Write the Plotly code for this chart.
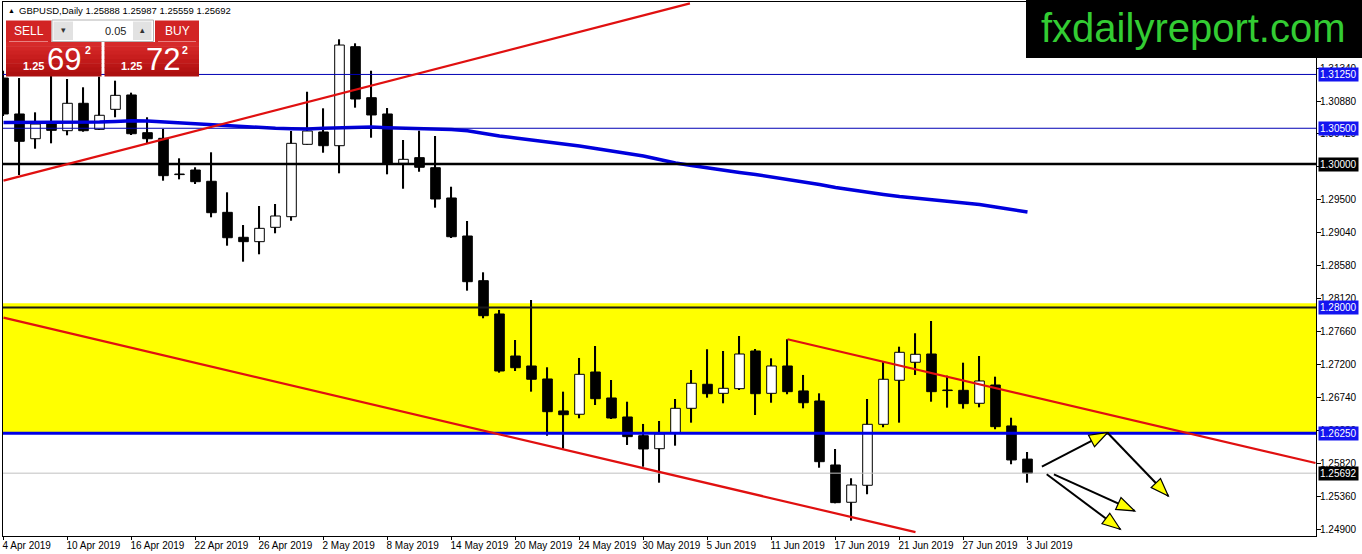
import math
import plotly.graph_objects as go

FONT = "Liberation Sans"

# GBPUSD daily bars
dates = ["2019-04-04", "2019-04-05", "2019-04-08", "2019-04-09", "2019-04-10", "2019-04-11",
         "2019-04-12", "2019-04-15", "2019-04-16", "2019-04-17", "2019-04-18", "2019-04-19",
         "2019-04-22", "2019-04-23", "2019-04-24", "2019-04-25", "2019-04-26", "2019-04-29",
         "2019-04-30", "2019-05-01", "2019-05-02", "2019-05-03", "2019-05-06", "2019-05-07",
         "2019-05-08", "2019-05-09", "2019-05-10", "2019-05-13", "2019-05-14", "2019-05-15",
         "2019-05-16", "2019-05-17", "2019-05-20", "2019-05-21", "2019-05-22", "2019-05-23",
         "2019-05-24", "2019-05-27", "2019-05-28", "2019-05-29", "2019-05-30", "2019-05-31",
         "2019-06-03", "2019-06-04", "2019-06-05", "2019-06-06", "2019-06-07", "2019-06-10",
         "2019-06-11", "2019-06-12", "2019-06-13", "2019-06-14", "2019-06-17", "2019-06-18",
         "2019-06-19", "2019-06-20", "2019-06-21", "2019-06-24", "2019-06-25", "2019-06-26",
         "2019-06-27", "2019-06-28", "2019-07-01", "2019-07-02", "2019-07-03"]
opens = [1.31200, 1.30699, 1.30354, 1.30591, 1.30466, 1.30848, 1.30485, 1.30764, 1.30964, 1.30438,
         1.30360, 1.29862, 1.29918, 1.29761, 1.29328, 1.28980, 1.28919, 1.29119, 1.29267, 1.30276,
         1.30448, 1.30257, 1.31637, 1.30926, 1.30699, 1.30011, 1.30090, 1.29950, 1.29528, 1.28998,
         1.28375, 1.27911, 1.27325, 1.27186, 1.27005, 1.26559, 1.26513, 1.27102, 1.26740, 1.26475,
         1.26214, 1.26033, 1.26248, 1.26596, 1.26931, 1.26805, 1.26870, 1.27395, 1.26805, 1.27186,
         1.26838, 1.26698, 1.25806, 1.25286, 1.25523, 1.26373, 1.26987, 1.27238, 1.27353, 1.26851,
         1.26847, 1.26666, 1.26921, 1.26350, 1.25888]
highs = [1.31300, 1.31200, 1.30722, 1.31250, 1.31187, 1.31071, 1.31220, 1.31163, 1.30996, 1.30653,
         1.30490, 1.30081, 1.29956, 1.30165, 1.29607, 1.29151, 1.29416, 1.29444, 1.30462, 1.31009,
         1.30778, 1.31740, 1.31684, 1.31302, 1.30782, 1.30336, 1.30466, 1.30392, 1.29685, 1.29207,
         1.28492, 1.27967, 1.27548, 1.28106, 1.27168, 1.26828, 1.27298, 1.27465, 1.26991, 1.26688,
         1.26378, 1.26419, 1.26726, 1.27130, 1.27419, 1.27395, 1.27604, 1.27423, 1.27293, 1.27558,
         1.27061, 1.26805, 1.26029, 1.25621, 1.26726, 1.27246, 1.27455, 1.27642, 1.27813, 1.27051,
         1.27232, 1.27325, 1.27037, 1.26465, 1.25987]
lows = [1.30671, 1.29848, 1.30215, 1.30290, 1.30402, 1.30452, 1.30476, 1.30653, 1.30406, 1.30290,
        1.29769, 1.29788, 1.29723, 1.29259, 1.28863, 1.28640, 1.28743, 1.29036, 1.29211, 1.30270,
        1.30159, 1.29872, 1.30787, 1.30368, 1.29858, 1.29657, 1.29894, 1.29393, 1.28970, 1.28236,
        1.27851, 1.27093, 1.27116, 1.26828, 1.26214, 1.26033, 1.26457, 1.26642, 1.26447, 1.26085,
        1.25782, 1.25559, 1.26075, 1.26396, 1.26744, 1.26666, 1.26851, 1.26503, 1.26674, 1.26792,
        1.26596, 1.25768, 1.25272, 1.25030, 1.25398, 1.26332, 1.26396, 1.27061, 1.26688, 1.26605,
        1.26591, 1.26610, 1.26304, 1.25816, 1.25559]
closes = [1.30699, 1.30318, 1.30559, 1.30471, 1.30848, 1.30466, 1.30681, 1.30959, 1.30424, 1.30354,
          1.29839, 1.29854, 1.29755, 1.29323, 1.28974, 1.28919, 1.29105, 1.29277, 1.30290, 1.30462,
          1.30257, 1.31660, 1.30908, 1.30685, 1.30011, 1.30067, 1.29956, 1.29514, 1.28988, 1.28361,
          1.27887, 1.27116, 1.27162, 1.27001, 1.26549, 1.26507, 1.27070, 1.26730, 1.26461, 1.26201,
          1.26029, 1.26238, 1.26596, 1.26945, 1.26800, 1.26875, 1.27353, 1.26800, 1.27186, 1.26828,
          1.26674, 1.25852, 1.25281, 1.25527, 1.26373, 1.27001, 1.27377, 1.27349, 1.26828, 1.26843,
          1.26661, 1.26977, 1.26340, 1.25876, 1.25692]
ma_line = [1.30580, 1.30580, 1.30580, 1.30583, 1.30583, 1.30583, 1.30587, 1.30594, 1.30605, 1.30601,
           1.30587, 1.30580, 1.30566, 1.30552, 1.30541, 1.30527, 1.30508, 1.30499, 1.30494, 1.30490,
           1.30499, 1.30508, 1.30513, 1.30517, 1.30508, 1.30503, 1.30499, 1.30494, 1.30483, 1.30466,
           1.30427, 1.30392, 1.30364, 1.30339, 1.30315, 1.30287, 1.30253, 1.30218, 1.30183, 1.30152,
           1.30113, 1.30064, 1.30016, 1.29981, 1.29946, 1.29911, 1.29883, 1.29855, 1.29820, 1.29786,
           1.29758, 1.29716, 1.29674, 1.29639, 1.29604, 1.29577, 1.29549, 1.29528, 1.29507, 1.29486,
           1.29465, 1.29437, 1.29402, 1.29367, 1.29333]

tick_labels = ["4 Apr 2019", "10 Apr 2019", "16 Apr 2019", "22 Apr 2019", "26 Apr 2019",
               "2 May 2019", "8 May 2019", "14 May 2019", "20 May 2019", "24 May 2019",
               "30 May 2019", "5 Jun 2019", "11 Jun 2019", "17 Jun 2019", "21 Jun 2019",
               "27 Jun 2019", "3 Jul 2019"]
price_ticks = [1.24900, 1.25360, 1.25820, 1.26280, 1.26740, 1.27200, 1.27660, 1.28120,
               1.28580, 1.29040, 1.29500, 1.29960, 1.30420, 1.30880, 1.31340]

# drawn objects
levels = [1.31250, 1.30500, 1.30000, 1.28000, 1.26250, 1.25692]
level_colors = ["#0000b4", "#0000b4", "black", "#1a1a1a", "#0000e6", "#c0c0c0"]
level_widths = [1, 1, 2.5, 2, 3, 1]
level_tags = ["#1414f0", "#1414f0", "black", "#1414f0", "#1414f0", "black"]
zone = (1.26250, 1.28060)
trendlines = [((0, 1.2977), (42.9, 1.3224)),
              ((0, 1.2786), (57.0, 1.2487)),
              ((49, 1.27558), (82.0, 1.25834))]
arrows = [((64.9, 1.25782), (69.0, 1.26256)),
          ((69.0, 1.26256), (72.8, 1.25374)),
          ((65.65, 1.25676), (70.7, 1.25165)),
          ((65.2, 1.25676), (69.8, 1.24910))]

W, H = 1362, 554
ML, MR, MT, MB = 3, 46, 2, 18
XR = (-0.031, 82.031)
YR = (1.24816, 1.32260)
PX_BAR = (W - ML - MR) / (XR[1] - XR[0])
PX_PRICE = (H - MT - MB) / (YR[1] - YR[0])

idx = list(range(len(dates)))


def px(x):
    return (x - ML) / (W - ML - MR)


def py(y):
    return 1 - (y - MT) / (H - MT - MB)


fig = go.Figure()

# wicks
fig.add_trace(go.Bar(x=idx, y=[h - l for h, l in zip(highs, lows)], base=lows, width=0.07,
                     marker=dict(color="black", line=dict(width=0)), hoverinfo="skip"))
# bodies
fig.add_trace(go.Bar(
    x=idx,
    y=[max(abs(c - o), 0.00006) for o, c in zip(opens, closes)],
    base=[min(o, c) for o, c in zip(opens, closes)],
    width=0.6,
    marker=dict(color=["white" if c > o else "black" for o, c in zip(opens, closes)],
                line=dict(color="black", width=1)),
    customdata=list(zip(dates, opens, highs, lows, closes)),
    hovertemplate="%{customdata[0]}<br>O %{customdata[1]}<br>H %{customdata[2]}"
                  "<br>L %{customdata[3]}<br>C %{customdata[4]}<extra></extra>",
))
fig.add_trace(go.Scatter(x=idx, y=ma_line, mode="lines", line=dict(color="#0000dd", width=3.5),
                         hoverinfo="skip"))

shapes = []
shapes.append(dict(type="rect", xref="paper", yref="y", x0=0, x1=1, y0=zone[0], y1=zone[1],
                   fillcolor="#ffff00", line=dict(width=0), layer="below"))
for lv, col, lw in zip(levels, level_colors, level_widths):
    shapes.append(dict(type="line", xref="paper", yref="y", x0=0, x1=1, y0=lv, y1=lv,
                       line=dict(color=col, width=lw)))
for (a, b) in trendlines:
    shapes.append(dict(type="line", x0=a[0], y0=a[1], x1=b[0], y1=b[1],
                       line=dict(color="#e01010", width=2.2)))

for (a, b) in arrows:
    shapes.append(dict(type="line", x0=a[0], y0=a[1], x1=b[0], y1=b[1],
                       line=dict(color="black", width=2)))
    dxp = (b[0] - a[0]) * PX_BAR
    dyp = (b[1] - a[1]) * PX_PRICE
    n = math.hypot(dxp, dyp)
    ux, uy = dxp / n, dyp / n
    hl, hw = 18, 6.5
    pts = [(0, 0), (-ux * hl - uy * hw, -uy * hl + ux * hw), (-ux * hl + uy * hw, -uy * hl - ux * hw)]
    pts = [(b[0] + p[0] / PX_BAR, b[1] + p[1] / PX_PRICE) for p in pts]
    path = "M{},{} L{},{} L{},{} Z".format(*[v for p in pts for v in p])
    shapes.append(dict(type="path", path=path, fillcolor="#ffff00",
                       line=dict(color="black", width=1.2)))


def pbox(x0, y0, x1, y1, fill, line=None):
    return dict(type="rect", xref="paper", yref="paper", x0=px(x0), x1=px(x1), y0=py(y1), y1=py(y0),
                fillcolor=fill, line=dict(color=line or fill, width=1 if line else 0))


# trade panel (red price tiles shaded top to bottom) + logo
shapes += [
    pbox(6, 20.5, 51.5, 42, "#d22424"),
    pbox(155, 20.5, 199, 42, "#d22424"),
    pbox(52, 20, 153.5, 41.5, "white", "#b4b4b4"),
    pbox(53.5, 21.5, 73, 40, "#e2e2e2"),
    pbox(133, 21.5, 151.5, 40, "#e2e2e2"),
    pbox(1026, -4, 1366, 58, "black"),
]
shade = ["#d62a2a", "#d22626", "#cd2222", "#c81e1e", "#c21a1a", "#bb1616", "#b41313", "#ad1010"]
band = (76 - 42) / len(shade)
for k, col in enumerate(shade):
    for x0, x1 in [(6, 101.5), (104.5, 199)]:
        shapes.append(pbox(x0, 42 + k * band, x1, 42 + (k + 1) * band + 0.5, col))
for x0, x1 in [(9, 48), (158, 196)]:
    shapes.append(dict(type="line", xref="paper", yref="paper", x0=px(x0), x1=px(x1),
                       y0=py(41.5), y1=py(41.5), line=dict(color="#e88080", width=1)))

ann = []


def ptext(x, y, text, size, color="white", xanchor="center", family=FONT):
    ann.append(dict(xref="paper", yref="paper", x=px(x), y=py(y), text=text, showarrow=False,
                    xanchor=xanchor, yanchor="middle", font=dict(size=size, color=color, family=family)))


ptext(6, 10, "▲", 7, "black", "left")
ptext(17, 10.5, "GBPUSD,Daily 1.25888 1.25987 1.25559 1.25692", 9.5, "black", "left")
ptext(28.7, 31, "SELL", 12)
ptext(177, 31, "BUY", 12)
ptext(63.5, 30.5, "▾", 9, "#333333")
ptext(142, 30.5, "▴", 9, "#333333")
ptext(128, 31, "0.05", 11, "#222222", "right")
ptext(20.5, 65.5, "<b>1.25</b>", 11, "white", "left")
ptext(64, 59.5, "69", 31)
ptext(88, 50.5, "<b>2</b>", 10.5)
ptext(118.8, 65.5, "<b>1.25</b>", 11, "white", "left")
ptext(162.5, 59.5, "72", 31)
ptext(185, 50.5, "<b>2</b>", 10.5)
ptext(1193, 28, "fxdailyreport.com", 40, "#33cc33", family="Liberation Sans")

for lv, bg in zip(levels, level_tags):
    ann.append(dict(xref="paper", x=1, xanchor="left", xshift=1.5, yref="y", y=lv, yanchor="middle",
                    text=f"{lv:.5f}", showarrow=False, align="left",
                    borderpad=1, bgcolor=bg, font=dict(size=10, color="white", family=FONT)))

fig.update_layout(
    width=W, height=H,
    margin=dict(l=ML, r=MR, t=MT, b=MB, autoexpand=False),
    paper_bgcolor="white", plot_bgcolor="white",
    barmode="overlay", showlegend=False,
    shapes=shapes, annotations=ann,
    font=dict(family=FONT, size=10, color="black"),
    xaxis=dict(range=list(XR), tickvals=idx[::4], ticktext=tick_labels, tickangle=0,
               ticklabelposition="outside right", ticklabelshift=-2,
               ticks="outside", ticklen=3, tickcolor="black",
               showgrid=False, zeroline=False, showline=True, linecolor="black", mirror=True,
               automargin=False, tickfont=dict(size=10)),
    yaxis=dict(range=list(YR), side="right", tickvals=price_ticks, tickformat=".5f",
               ticks="outside", ticklen=4, tickcolor="black", showgrid=False, zeroline=False,
               showline=True, linecolor="black", mirror=True, automargin=False,
               ticklabelstandoff=-3, tickfont=dict(size=10)),
)

fig.write_html("out.html", config={"displayModeBar": False},
               post_script="document.body.style.margin='0';")
